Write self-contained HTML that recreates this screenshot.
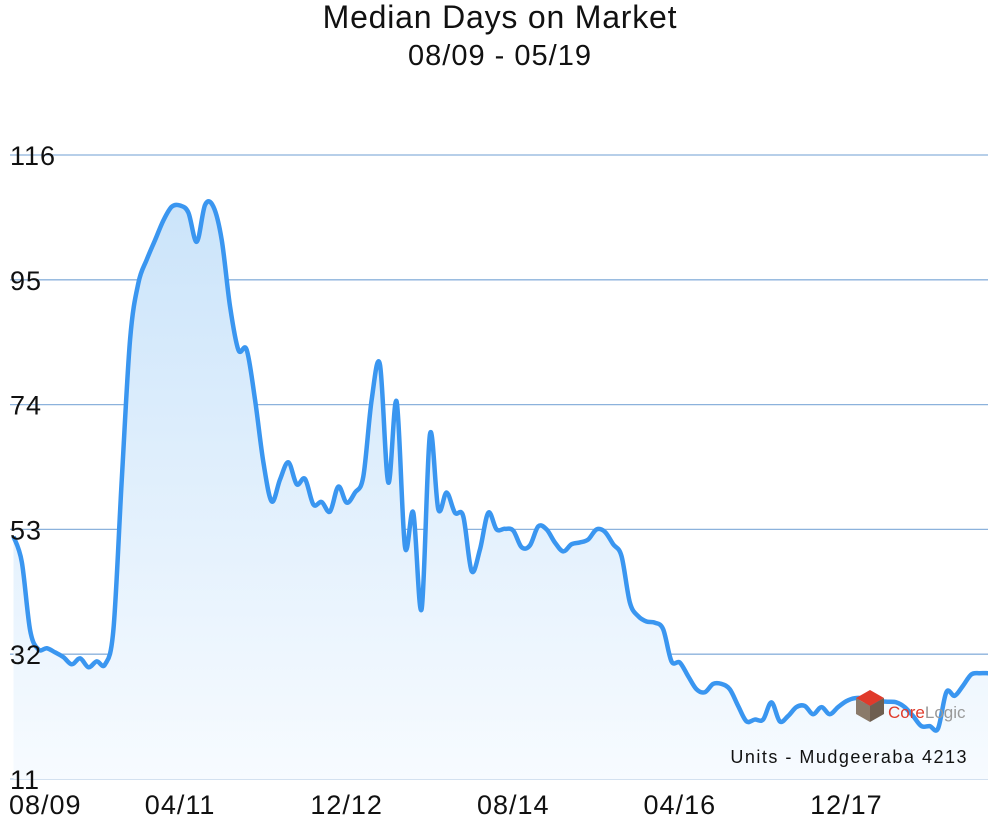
<!DOCTYPE html>
<html><head><meta charset="utf-8"><style>
body{margin:0;background:#fff;width:1000px;height:830px;overflow:hidden;font-family:"Liberation Sans",sans-serif}
svg{display:block}
</style></head><body>
<svg id="chart" width="1000" height="830">
<defs><linearGradient id="g" x1="0" y1="0" x2="0" y2="1"><stop offset="0" stop-color="#cbe4fa"/><stop offset="1" stop-color="#f7fbff"/></linearGradient></defs>
<text x="500" y="28" text-anchor="middle" font-size="32" letter-spacing="0.8" fill="#111">Median Days on Market</text>
<text x="500" y="65" text-anchor="middle" font-size="29" letter-spacing="1" fill="#111">08/09 - 05/19</text>
<g id="grid"></g><g id="plot"></g><g id="yl"></g><g id="xl"></g>
<g>
<polygon points="856,698 870,690 884,698 870,706" fill="#e03a2a"/>
<polygon points="856,698 870,706 870,722 856,714" fill="#8a7a6a"/>
<polygon points="870,706 884,698 884,714 870,722" fill="#6e5e50"/>
<text x="888" y="718" font-size="17" fill="#e03a2a">Core<tspan fill="#999">Logic</tspan></text>
</g>
<text x="968" y="763" text-anchor="end" font-size="18" letter-spacing="1.5" fill="#111">Units - Mudgeeraba 4213</text>
</svg>
<script>
const yTicks=[11,32,53,74,95,116];
const xTickLabels=["08/09","04/11","12/12","08/14","04/16","12/17"];
const xTickMonths=[0,20,40,60,80,100];
const values=[51.8,47.5,36,32.8,33,32.3,31.5,30.3,31.3,29.8,30.8,30.3,36.2,61.4,85,94.5,98.4,101.7,105,107.3,107.5,106.3,101.4,107.6,107.3,101.7,90.5,83.2,83.2,74.8,64.3,57.7,61.4,64.3,60.6,61.5,57.2,57.6,56,60.2,57.5,59.2,61.9,74.8,80.7,60.9,74.5,50.1,55.8,39.6,69,56.4,59.2,55.8,55.2,46,49.6,55.8,53,53.1,52.8,50,50.3,53.5,53,50.8,49.3,50.5,50.8,51.3,53,52.6,50.5,48.5,40.7,38.4,37.5,37.3,36.2,30.8,30.6,28.3,26.1,25.6,27,27,26.1,23.3,20.7,21,21,23.9,20.7,21.6,23.1,23.3,21.9,23.1,21.9,23.1,24.1,24.6,24.5,23.3,24,24,23.9,23.1,21.6,19.9,19.9,19.5,25.6,25,26.7,28.6,28.8,28.8];
const NS='http://www.w3.org/2000/svg';
const X=i=>13.5+i*(974.5/117);
const Y=v=>779-(v-11)*(624/105);
const grid=document.getElementById('grid'),plot=document.getElementById('plot'),xl=document.getElementById('xl'),yl=document.getElementById('yl');
yTicks.forEach((t,k)=>{
 const l=document.createElementNS(NS,'line');
 
 
 l.setAttribute('x1',10);l.setAttribute('x2',988);l.setAttribute('y1',Y(t));l.setAttribute('y2',Y(t));
 l.setAttribute('stroke',k==0?'#b9cfe8':'#8cb2dc');l.setAttribute('stroke-width',1.3);
 grid.appendChild(l);
 const tx=document.createElementNS(NS,'text');
 
 
 tx.setAttribute('x',10);tx.setAttribute('y',Y(t)+10);tx.setAttribute('font-size',27);tx.setAttribute('letter-spacing',1);tx.setAttribute('fill','#111');
 tx.textContent=t;yl.appendChild(tx);
});
xTickLabels.forEach((s,k)=>{
 const tx=document.createElementNS(NS,'text');
 
 
 const cx=X(xTickMonths[k]);
 if(k==0){tx.setAttribute('x',9);}else{tx.setAttribute('x',cx);tx.setAttribute('text-anchor','middle');}
 tx.setAttribute('y',814);tx.setAttribute('font-size',27);tx.setAttribute('letter-spacing',1);tx.setAttribute('fill','#111');
 tx.textContent=s;xl.appendChild(tx);
});
const pts=values.map((v,i)=>[X(i),Y(v)]);
let d='M'+pts[0][0]+','+pts[0][1];
for(let i=0;i<pts.length-1;i++){
 const p0=pts[Math.max(0,i-1)],p1=pts[i],p2=pts[i+1],p3=pts[Math.min(pts.length-1,i+2)];
 const c1=[p1[0]+(p2[0]-p0[0])/6,p1[1]+(p2[1]-p0[1])/6],c2=[p2[0]-(p3[0]-p1[0])/6,p2[1]-(p3[1]-p1[1])/6];
 d+=` C${c1[0]},${c1[1]} ${c2[0]},${c2[1]} ${p2[0]},${p2[1]}`;
}
const area=document.createElementNS(NS,'path');


area.setAttribute('d',d+` L${X(values.length-1)},779 L${X(0)},779 Z`);area.setAttribute('fill','url(#g)');
plot.appendChild(area);
const line=document.createElementNS(NS,'path');


line.setAttribute('d',d);line.setAttribute('fill','none');line.setAttribute('stroke','#3a96f0');line.setAttribute('stroke-width',4.5);line.setAttribute('stroke-linejoin','round');
plot.appendChild(line);
</script>
</body></html>
